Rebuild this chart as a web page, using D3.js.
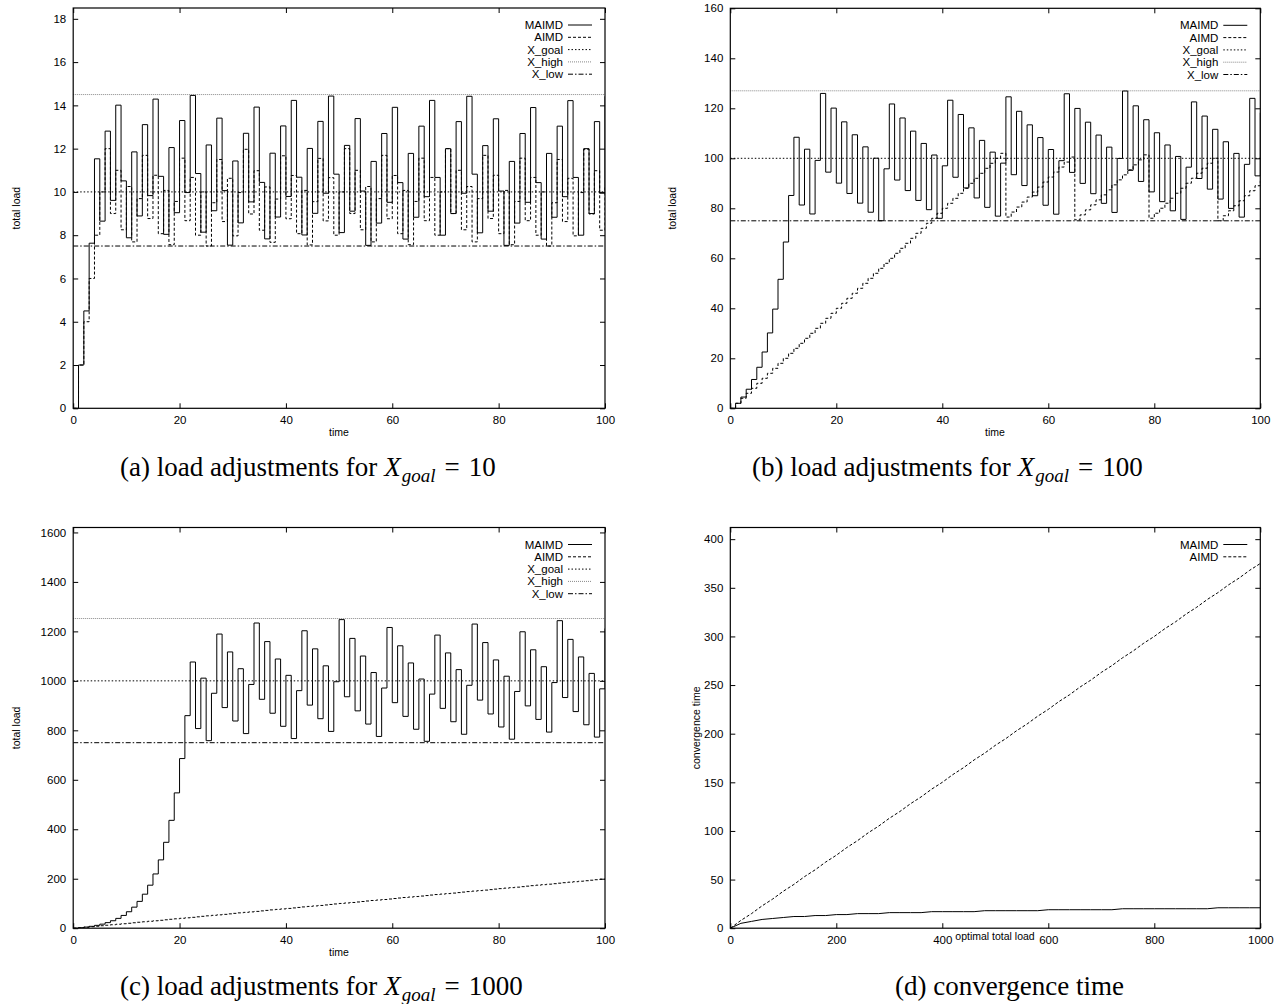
<!DOCTYPE html>
<html>
<head>
<meta charset="utf-8">
<script src="https://cdn.jsdelivr.net/npm/d3@7"></script>
<style>
  body { margin: 0; background: #fff; }
  svg text { font-family: "Liberation Sans", Arial, sans-serif; }
</style>
</head>
<body>
<div id="fig"></div>
<script>
// ======================================================
// Load adjustment figures: MAIMD vs AIMD (4 gnuplot panels)
// values
// ======================================================

const timeSteps = [
  0, 1, 2, 3, 4, 5, 6, 7, 8, 9, 10, 11, 12, 13, 14, 15, 16, 17, 18, 19,
  20, 21, 22, 23, 24, 25, 26, 27, 28, 29, 30, 31, 32, 33, 34, 35, 36, 37, 38, 39,
  40, 41, 42, 43, 44, 45, 46, 47, 48, 49, 50, 51, 52, 53, 54, 55, 56, 57, 58, 59,
  60, 61, 62, 63, 64, 65, 66, 67, 68, 69, 70, 71, 72, 73, 74, 75, 76, 77, 78, 79,
  80, 81, 82, 83, 84, 85, 86, 87, 88, 89, 90, 91, 92, 93, 94, 95, 96, 97, 98, 99, 100
];

// (a) X_goal = 10
const maimdA = [
  0, 2, 4.5, 7.63, 11.53, 8.65, 12.81, 9.61, 14.01, 10.51,
  7.88, 11.85, 8.89, 13.11, 9.83, 14.29, 10.72, 8.04, 12.05, 9.04,
  13.30, 9.97, 14.46, 10.85, 8.14, 12.17, 9.13, 13.41, 10.06, 7.54,
  11.43, 8.57, 12.71, 9.54, 13.92, 10.44, 7.83, 11.79, 8.84, 13.05,
  9.79, 14.23, 10.68, 8.01, 12.01, 9.01, 13.26, 9.94, 14.43, 10.82,
  8.12, 12.15, 9.11, 13.39, 10.04, 7.53, 11.41, 8.56, 12.70, 9.52,
  13.91, 10.43, 7.82, 11.78, 8.83, 13.04, 9.78, 14.23, 10.67, 8.00,
  12.00, 9.00, 13.25, 9.94, 14.42, 10.82, 8.11, 12.14, 9.11, 13.38,
  10.04, 7.53, 11.41, 8.56, 12.70, 9.52, 13.90, 10.43, 7.82, 11.78,
  8.83, 13.04, 9.78, 14.22, 10.67, 8.00, 12.00, 9.00, 13.25, 9.94,
  14.42
];
const aimdA = [
  0, 2, 4, 6, 8, 10, 12, 9, 11, 8.25,
  10.25, 7.69, 9.69, 11.69, 8.77, 10.77, 8.07, 10.07, 7.56, 9.56,
  11.56, 8.67, 10.67, 8.00, 10.00, 7.50, 9.50, 11.50, 8.63, 10.63,
  7.97, 9.97, 11.97, 8.98, 10.98, 8.23, 10.23, 7.67, 9.67, 11.67,
  8.76, 10.76, 8.07, 10.07, 7.55, 9.55, 11.55, 8.66, 10.66, 8.00,
  10.00, 12.00, 9.00, 11.00, 8.25, 10.25, 7.69, 9.69, 11.69, 8.76,
  10.76, 8.07, 10.07, 7.56, 9.56, 11.56, 8.67, 10.67, 8.00, 10.00,
  12.00, 9.00, 11.00, 8.25, 10.25, 7.69, 9.69, 11.69, 8.77, 10.77,
  8.07, 10.07, 7.56, 9.56, 11.56, 8.67, 10.67, 8.00, 10.00, 7.50,
  9.50, 11.50, 8.63, 10.63, 7.97, 9.97, 11.97, 8.98, 10.98, 8.23,
  10.23
];
const limitsA = { goal: 10, high: 14.5, low: 7.5 };

// (b) X_goal = 100
const maimdB = [
  0, 2, 4.5, 7.63, 11.53, 16.41, 22.52, 30.15, 39.68, 51.60,
  66.51, 85.13, 108.42, 81.31, 103.64, 77.73, 99.16, 125.95, 94.46, 120.08,
  90.06, 114.58, 85.93, 109.41, 82.06, 104.58, 78.43, 100.04, 75.03, 95.79,
  121.73, 91.30, 116.13, 87.09, 110.87, 83.15, 105.94, 79.45, 101.32, 75.99,
  96.99, 123.23, 92.42, 117.53, 88.15, 112.18, 84.14, 107.17, 80.38, 102.47,
  76.86, 98.07, 124.59, 93.44, 118.80, 89.10, 113.38, 85.03, 108.29, 81.22,
  103.52, 77.64, 99.05, 125.81, 94.36, 119.95, 89.96, 114.45, 85.84, 109.30,
  81.98, 104.47, 78.35, 99.94, 126.92, 95.19, 120.99, 90.74, 115.43, 86.57,
  110.22, 82.66, 105.33, 79.00, 100.74, 75.56, 96.45, 122.56, 91.92, 116.90,
  87.67, 111.59, 83.69, 106.62, 79.96, 101.96, 76.47, 97.58, 123.98, 92.98,
  118.23
];
const aimdB = [
  0, 2, 4, 6, 8, 10, 12, 14, 16, 18,
  20, 22, 24, 26, 28, 30, 32, 34, 36, 38,
  40, 42, 44, 46, 48, 50, 52, 54, 56, 58,
  60, 62, 64, 66, 68, 70, 72, 74, 76, 78,
  80, 82, 84, 86, 88, 90, 92, 94, 96, 98,
  100, 102, 76.5, 78.5, 80.5, 82.5, 84.5, 86.5, 88.5, 90.5,
  92.5, 94.5, 96.5, 98.5, 100.5, 75.38, 77.38, 79.38, 81.38, 83.38,
  85.38, 87.38, 89.38, 91.38, 93.38, 95.38, 97.38, 99.38, 101.38, 76.03,
  78.03, 80.03, 82.03, 84.03, 86.03, 88.03, 90.03, 92.03, 94.03, 96.03,
  98.03, 100.03, 75.02, 77.02, 79.02, 81.02, 83.02, 85.02, 87.02, 89.02,
  91.02
];
const limitsB = { goal: 100, high: 127, low: 75 };

// (c) X_goal = 1000
const maimdC = [
  0, 2, 4.5, 7.63, 11.53, 16.41, 22.52, 30.15, 39.68, 51.60,
  66.51, 85.13, 108.42, 137.52, 173.90, 219.37, 276.22, 347.27, 436.09, 547.11,
  685.89, 859.36, 1076.20, 807.15, 1010.94, 758.20, 949.76, 1189.19, 891.90, 1116.87,
  837.65, 1049.07, 786.80, 985.50, 1233.87, 925.41, 1158.76, 869.07, 1088.33, 816.25,
  1022.31, 766.74, 960.42, 1202.52, 901.89, 1129.37, 847.02, 1060.78, 795.59, 996.48,
  1247.60, 935.70, 1171.63, 878.72, 1100.40, 825.30, 1033.63, 775.22, 971.02, 1215.78,
  911.83, 1141.79, 856.35, 1072.43, 804.32, 1007.40, 755.55, 946.44, 1185.05, 888.79,
  1112.99, 834.74, 1045.42, 784.07, 982.09, 1229.61, 922.21, 1154.76, 866.07, 1084.58,
  813.44, 1018.80, 764.10, 957.12, 1198.40, 898.80, 1125.50, 844.13, 1057.16, 792.87,
  993.09, 1243.36, 932.52, 1167.65, 875.74, 1096.67, 822.50, 1030.13, 772.60, 967.75,
  1211.68
];
const aimdC = [
  0, 2, 4, 6, 8, 10, 12, 14, 16, 18,
  20, 22, 24, 26, 28, 30, 32, 34, 36, 38,
  40, 42, 44, 46, 48, 50, 52, 54, 56, 58,
  60, 62, 64, 66, 68, 70, 72, 74, 76, 78,
  80, 82, 84, 86, 88, 90, 92, 94, 96, 98,
  100, 102, 104, 106, 108, 110, 112, 114, 116, 118,
  120, 122, 124, 126, 128, 130, 132, 134, 136, 138,
  140, 142, 144, 146, 148, 150, 152, 154, 156, 158,
  160, 162, 164, 166, 168, 170, 172, 174, 176, 178,
  180, 182, 184, 186, 188, 190, 192, 194, 196, 198,
  200
];
const limitsC = { goal: 1000, high: 1252, low: 750 };

// (d) convergence time vs optimal total load
const optimalLoad = [
  0, 20, 40, 60, 80, 100, 120, 140, 160, 180, 200, 220, 240, 260, 280, 300, 320,
  340, 360, 380, 400, 420, 440, 460, 480, 500, 520, 540, 560, 580, 600, 620, 640,
  660, 680, 700, 720, 740, 760, 780, 800, 820, 840, 860, 880, 900, 920, 940, 960, 980, 1000
];
const convMaimd = [
  0, 5, 7, 9, 10, 11, 12, 12, 13, 13, 14, 14, 15, 15, 15, 16, 16,
  16, 16, 17, 17, 17, 17, 17, 18, 18, 18, 18, 18, 18, 19, 19, 19,
  19, 19, 19, 19, 20, 20, 20, 20, 20, 20, 20, 20, 20, 21, 21, 21, 21, 21
];
const convAimd = [
  0, 8, 15, 23, 30, 38, 45, 53, 60, 68, 75, 83, 90, 98, 105, 113, 120,
  128, 135, 143, 150, 158, 165, 173, 180, 188, 195, 203, 210, 218, 225, 233, 240,
  248, 255, 263, 270, 278, 285, 293, 300, 308, 315, 323, 330, 338, 345, 353, 360, 368, 375
];

// gnuplot-like line types
const STYLE = {
  maimd: { stroke: "#000", dash: null, width: 1 },
  aimd:  { stroke: "#000", dash: "3,2", width: 1 },
  goal:  { stroke: "#000", dash: "1.5,2", width: 1 },
  high:  { stroke: "#888", dash: "1,1", width: 1 },
  low:   { stroke: "#000", dash: "5,2,1.5,2", width: 1 }
};

const W = 1286, H = 1004;
const svg = d3.select("#fig").append("svg")
  .attr("width", W).attr("height", H)
  .style("display", "block");

function zip(xs, ys) { return xs.map((v, i) => [v, ys[i]]); }

function drawPanel(p) {
  const x = d3.scaleLinear().domain(p.xDomain).range([p.left, p.right]);
  const y = d3.scaleLinear().domain(p.yDomain).range([p.bottom, p.top]);
  const g = svg.append("g");
  const tick = 5;
  const fmt = d3.format("d");

  // ticks point inward on all four sides
  g.append("g").attr("transform", `translate(0,${p.bottom})`)
    .call(d3.axisBottom(x).tickValues(p.xTicks).tickFormat(fmt)
      .tickSizeInner(-tick).tickSizeOuter(0).tickPadding(8));
  g.append("g").attr("transform", `translate(0,${p.top})`)
    .call(d3.axisTop(x).tickValues(p.xTicks).tickSizeInner(-tick).tickSizeOuter(0).tickFormat(""));
  g.append("g").attr("transform", `translate(${p.left},0)`)
    .call(d3.axisLeft(y).tickValues(p.yTicks).tickFormat(fmt)
      .tickSizeInner(-tick).tickSizeOuter(0).tickPadding(7));
  g.append("g").attr("transform", `translate(${p.right},0)`)
    .call(d3.axisRight(y).tickValues(p.yTicks).tickSizeInner(-tick).tickSizeOuter(0).tickFormat(""));
  g.selectAll(".domain").remove();
  g.selectAll(".tick line").attr("stroke", "#000");
  g.selectAll(".tick text").attr("fill", "#000").attr("font-size", "11.5px")
    .style("font-family", "'Liberation Sans', Arial, sans-serif");

  // clip region
  const clipId = "clip-" + p.id;
  svg.append("clipPath").attr("id", clipId).append("rect")
    .attr("x", p.left).attr("y", p.top)
    .attr("width", p.right - p.left).attr("height", p.bottom - p.top);
  const plot = g.append("g").attr("clip-path", `url(#${clipId})`);

  // horizontal reference lines
  (p.hlines || []).forEach(h => {
    const s = STYLE[h.key];
    plot.append("line")
      .attr("x1", p.left).attr("x2", p.right)
      .attr("y1", y(h.value)).attr("y2", y(h.value))
      .attr("stroke", s.stroke).attr("stroke-width", s.width)
      .attr("stroke-dasharray", s.dash);
  });

  // data series
  p.series.forEach(sr => {
    const s = STYLE[sr.key];
    const line = d3.line()
      .x(d => x(d[0])).y(d => y(d[1]))
      .curve(sr.steps ? d3.curveStepAfter : d3.curveLinear);
    plot.append("path")
      .datum(sr.data)
      .attr("d", line)
      .attr("fill", "none")
      .attr("stroke", s.stroke).attr("stroke-width", s.width)
      .attr("stroke-dasharray", s.dash);
  });

  // frame
  g.append("rect")
    .attr("x", p.left).attr("y", p.top)
    .attr("width", p.right - p.left).attr("height", p.bottom - p.top)
    .attr("fill", "none").attr("stroke", "#000").attr("stroke-width", 1.2);

  // axis labels
  g.append("text")
    .attr("x", p.xlabelX).attr("y", p.xlabelY)
    .attr("text-anchor", "middle").attr("font-size", "10.5px")
    .text(p.xlabel);
  g.append("text")
    .attr("transform", `translate(${p.ylabelX},${(p.top + p.bottom) / 2}) rotate(-90)`)
    .attr("text-anchor", "middle").attr("font-size", "10.5px")
    .text(p.ylabel);

  // key
  p.legend.forEach((e, i) => {
    const ly = p.top + 17 + i * 12.3;
    const s = STYLE[e.key];
    g.append("text")
      .attr("x", p.right - 42).attr("y", ly).attr("dy", "0.35em")
      .attr("text-anchor", "end").attr("font-size", "11.5px")
      .text(e.label);
    g.append("line")
      .attr("x1", p.right - 37).attr("x2", p.right - 13)
      .attr("y1", ly).attr("y2", ly)
      .attr("stroke", s.stroke).attr("stroke-width", s.width)
      .attr("stroke-dasharray", s.dash);
  });
}

function limitLines(l) {
  return [
    { key: "goal", value: l.goal },
    { key: "high", value: l.high },
    { key: "low", value: l.low }
  ];
}

const fullKey = [
  { key: "maimd", label: "MAIMD" },
  { key: "aimd", label: "AIMD" },
  { key: "goal", label: "X_goal" },
  { key: "high", label: "X_high" },
  { key: "low", label: "X_low" }
];

const timeTicks = [0, 20, 40, 60, 80, 100];

drawPanel({
  id: "a", left: 73.2, right: 605, top: 8, bottom: 408.3,
  xDomain: [0, 100], yDomain: [0, 18.5],
  xTicks: timeTicks, yTicks: [0, 2, 4, 6, 8, 10, 12, 14, 16, 18],
  xlabel: "time", ylabel: "total load", xlabelX: 339, xlabelY: 436, ylabelX: 20,
  hlines: limitLines(limitsA),
  series: [
    { key: "aimd", steps: true, data: zip(timeSteps, aimdA) },
    { key: "maimd", steps: true, data: zip(timeSteps, maimdA) }
  ],
  legend: fullKey
});

drawPanel({
  id: "b", left: 730.3, right: 1260.3, top: 8.3, bottom: 408.3,
  xDomain: [0, 100], yDomain: [0, 160],
  xTicks: timeTicks, yTicks: [0, 20, 40, 60, 80, 100, 120, 140, 160],
  xlabel: "time", ylabel: "total load", xlabelX: 995, xlabelY: 436, ylabelX: 676,
  hlines: limitLines(limitsB),
  series: [
    { key: "aimd", steps: true, data: zip(timeSteps, aimdB) },
    { key: "maimd", steps: true, data: zip(timeSteps, maimdB) }
  ],
  legend: fullKey
});

drawPanel({
  id: "c", left: 73.2, right: 605, top: 527.5, bottom: 928.2,
  xDomain: [0, 100], yDomain: [0, 1620],
  xTicks: timeTicks, yTicks: [0, 200, 400, 600, 800, 1000, 1200, 1400, 1600],
  xlabel: "time", ylabel: "total load", xlabelX: 339, xlabelY: 956, ylabelX: 20,
  hlines: limitLines(limitsC),
  series: [
    { key: "aimd", steps: true, data: zip(timeSteps, aimdC) },
    { key: "maimd", steps: true, data: zip(timeSteps, maimdC) }
  ],
  legend: fullKey
});

drawPanel({
  id: "d", left: 730.3, right: 1260.3, top: 527.5, bottom: 928.2,
  xDomain: [0, 1000], yDomain: [0, 412],
  xTicks: [0, 200, 400, 600, 800, 1000], yTicks: [0, 50, 100, 150, 200, 250, 300, 350, 400],
  xlabel: "optimal total load", ylabel: "convergence time", xlabelX: 995, xlabelY: 940, ylabelX: 700,
  hlines: [],
  series: [
    { key: "aimd", steps: false, data: zip(optimalLoad, convAimd) },
    { key: "maimd", steps: false, data: zip(optimalLoad, convMaimd) }
  ],
  legend: [fullKey[0], fullKey[1]]
});

// ---- captions (LaTeX style) ----
function caption(x, y, text, goal) {
  const t = svg.append("text")
    .attr("x", x).attr("y", y)
    .attr("font-size", "27px")
    .style("font-family", "'Liberation Serif', 'Times New Roman', serif");
  t.append("tspan").text(text);
  if (goal !== undefined) {
    t.append("tspan").attr("font-style", "italic").attr("dx", 7).text("X");
    t.append("tspan").attr("font-style", "italic").attr("font-size", "19px")
      .attr("dy", 6).attr("dx", 1).text("goal");
    t.append("tspan").attr("dy", -6).attr("dx", 9).text("=");
    t.append("tspan").attr("dx", 9).text(goal);
  }
}

caption(120, 476, "(a) load adjustments for", 10);
caption(752, 476, "(b) load adjustments for", 100);
caption(120, 995, "(c) load adjustments for", 1000);
caption(895, 995, "(d) convergence time");
</script>
</body>
</html>
